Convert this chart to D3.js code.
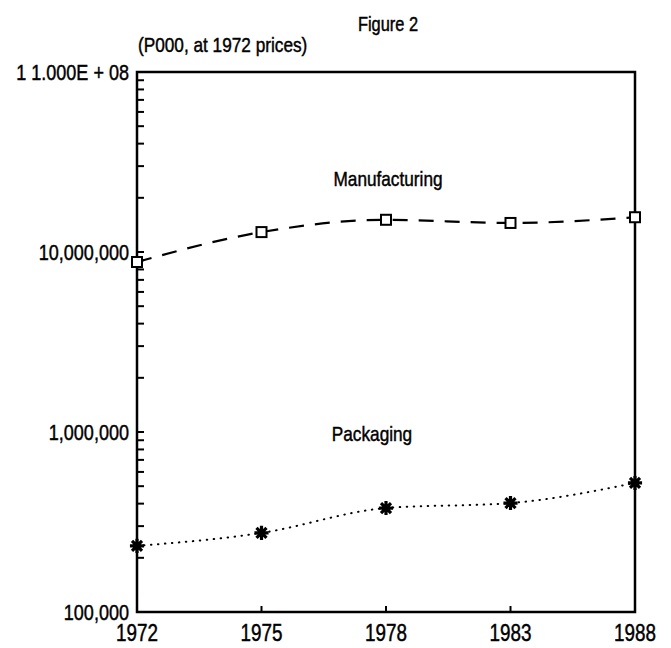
<!DOCTYPE html>
<html lang="en">
<head>
<meta charset="UTF-8">
<title>Figure 2</title>
<script src="https://d3js.org/d3.v7.min.js"></script>
<style>
  body { margin: 0; background: #fff; }
  svg { font-family: "Liberation Sans", Arial, sans-serif; }
  text { fill: #000; stroke: #000; stroke-width: 0.45px; }
</style>
</head>
<body>
<div id="chart"></div>
<script>
const years = ["1972", "1975", "1978", "1983", "1988"];
const manufacturing = [8.8e6, 1.29e7, 1.51e7, 1.45e7, 1.56e7];
const packaging = [2.33e5, 2.75e5, 3.78e5, 4.03e5, 5.21e5];
const yMajor = [1e5, 1e6, 1e7, 1e8];
const yMajorLabels = ["100,000", "1,000,000", "10,000,000", "1 1.000E + 08"];

const width = 671, height = 648;
const margin = {top: 72, right: 36, bottom: 36, left: 137};
const squeeze = 0.82; // the scan uses a condensed face

const svg = d3.select("#chart").append("svg")
  .attr("width", width).attr("height", height);

const x = d3.scalePoint().domain(years).range([margin.left, width - margin.right]);
const y = d3.scaleLog().domain([1e5, 1e8]).range([height - margin.bottom, margin.top]);

const x0 = margin.left, x1 = width - margin.right;
const y0 = height - margin.bottom, y1 = margin.top;

// condensed text helper
function label(g, tx, ty, str, size, anchor) {
  return g.append("text")
    .attr("transform", `translate(${tx},${ty}) scale(${squeeze},1)`)
    .attr("font-size", size)
    .attr("text-anchor", anchor || "start")
    .text(str);
}

// minor ticks on the left axis, pointing inward
const minor = [];
yMajor.forEach(d => { for (let k = 1; k < 10; k++) if (d * k <= 1e8) minor.push(d * k); });
svg.append("g").selectAll("line").data(minor).join("line")
  .attr("x1", x0).attr("x2", x0 + 7)
  .attr("y1", d => y(d)).attr("y2", d => y(d))
  .attr("stroke", "#000").attr("stroke-width", 2);

// bottom ticks
svg.append("g").selectAll("line").data(years.slice(1, -1)).join("line")
  .attr("x1", d => x(d)).attr("x2", d => x(d))
  .attr("y1", y0).attr("y2", y0 - 6)
  .attr("stroke", "#000").attr("stroke-width", 2);

// frame
svg.append("rect")
  .attr("x", x0).attr("y", y1).attr("width", x1 - x0).attr("height", y0 - y1)
  .attr("fill", "none").attr("stroke", "#000").attr("stroke-width", 2.5);

// y labels
const gy = svg.append("g");
yMajor.forEach((d, i) => label(gy, x0 - 8, y(d) + 8, yMajorLabels[i], 22, "end"));

// x labels
const gx = svg.append("g");
years.forEach(d => label(gx, x(d), y0 + 29, d, 23, "middle"));

// lines
const line = d3.line().x((d, i) => x(years[i])).y(d => y(d)).curve(d3.curveMonotoneX);

svg.append("path").datum(manufacturing)
  .attr("d", line).attr("fill", "none").attr("stroke", "#000")
  .attr("stroke-width", 2.2).attr("stroke-dasharray", "15,11");

svg.append("path").datum(packaging)
  .attr("d", line).attr("fill", "none").attr("stroke", "#000")
  .attr("stroke-width", 2).attr("stroke-linecap", "round").attr("stroke-dasharray", "0.5,6.5");

// square markers
svg.append("g").selectAll("rect").data(manufacturing).join("rect")
  .attr("x", (d, i) => x(years[i]) - 5).attr("y", d => y(d) - 5)
  .attr("width", 10).attr("height", 10)
  .attr("fill", "#fff").attr("stroke", "#000").attr("stroke-width", 2);

// star markers
const star = d3.symbol().type({
  draw(ctx, size) {
    const r = Math.sqrt(size) / 2;
    for (let k = 0; k < 4; k++) {
      const a = k * Math.PI / 4;
      ctx.moveTo(-r * Math.cos(a), -r * Math.sin(a));
      ctx.lineTo(r * Math.cos(a), r * Math.sin(a));
    }
  }
}).size(200);
svg.append("g").selectAll("path").data(packaging).join("path")
  .attr("transform", (d, i) => `translate(${x(years[i])},${y(d)})`)
  .attr("d", star).attr("fill", "none").attr("stroke", "#000").attr("stroke-width", 3.2);

// text annotations
label(svg, 388, 31, "Figure 2", 20, "middle");
label(svg, x0 + 1, 52, "(P000, at 1972 prices)", 21, "start");
label(svg, 388, 186, "Manufacturing", 21, "middle");
label(svg, 372, 441, "Packaging", 21, "middle");
</script>
</body>
</html>
